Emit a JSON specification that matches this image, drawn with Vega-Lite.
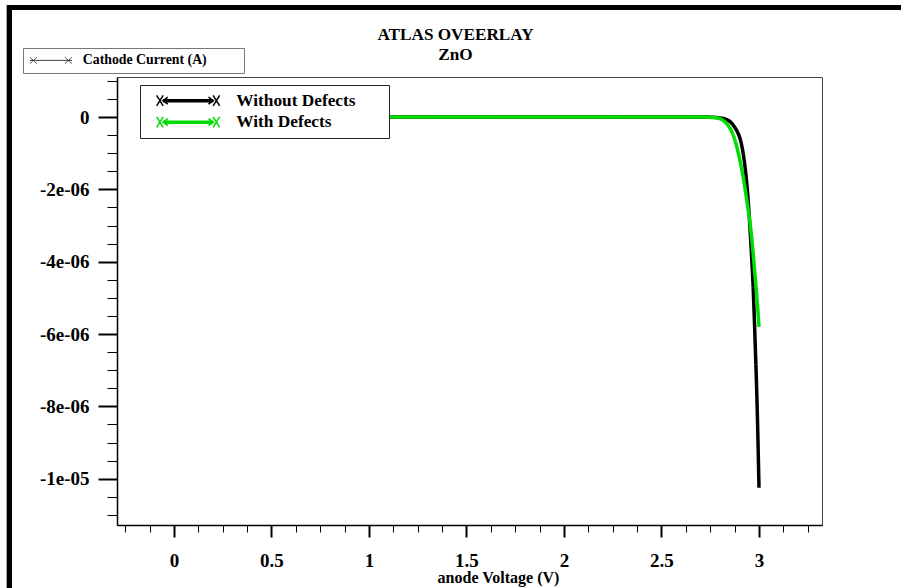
{
  "$schema": "https://vega.github.io/schema/vega-lite/v6.json",
  "width": 705,
  "height": 448,
  "autosize": {"type": "none"},
  "padding": {"left": 117, "top": 77, "right": 79, "bottom": 63},
  "background": "white",
  "title": {
    "text": "ATLAS OVEERLAY",
    "subtitle": "ZnO",
    "frame": "group",
    "anchor": "middle",
    "dx": -14,
    "offset": -61,
    "font": "Liberation Serif",
    "fontSize": 17.2,
    "fontWeight": "bold",
    "color": "black",
    "subtitleFont": "Liberation Serif",
    "subtitleFontSize": 17.2,
    "subtitleFontWeight": "bold",
    "subtitleColor": "black",
    "subtitlePadding": 3
  },
  "config": {
    "view": {"stroke": "#444", "strokeWidth": 1},
    "font": "Liberation Serif"
  },
  "data": {
    "values": [
      {"series": "Without Defects", "V": 0.0, "I": 0},
      {"series": "Without Defects", "V": 0.1, "I": 0},
      {"series": "Without Defects", "V": 0.2, "I": 0},
      {"series": "Without Defects", "V": 0.3, "I": 0},
      {"series": "Without Defects", "V": 0.4, "I": 0},
      {"series": "Without Defects", "V": 0.5, "I": 0},
      {"series": "Without Defects", "V": 0.6, "I": 0},
      {"series": "Without Defects", "V": 0.7, "I": 0},
      {"series": "Without Defects", "V": 0.8, "I": 0},
      {"series": "Without Defects", "V": 0.9, "I": 0},
      {"series": "Without Defects", "V": 1.0, "I": 0},
      {"series": "Without Defects", "V": 1.1, "I": 0},
      {"series": "Without Defects", "V": 1.2, "I": 0},
      {"series": "Without Defects", "V": 1.3, "I": 0},
      {"series": "Without Defects", "V": 1.4, "I": 0},
      {"series": "Without Defects", "V": 1.5, "I": 0},
      {"series": "Without Defects", "V": 1.6, "I": 0},
      {"series": "Without Defects", "V": 1.7, "I": 0},
      {"series": "Without Defects", "V": 1.8, "I": 0},
      {"series": "Without Defects", "V": 1.9, "I": 0},
      {"series": "Without Defects", "V": 2.0, "I": 0},
      {"series": "Without Defects", "V": 2.1, "I": 0},
      {"series": "Without Defects", "V": 2.2, "I": 0},
      {"series": "Without Defects", "V": 2.3, "I": 0},
      {"series": "Without Defects", "V": 2.4, "I": 0},
      {"series": "Without Defects", "V": 2.5, "I": 0},
      {"series": "Without Defects", "V": 2.6, "I": 0},
      {"series": "Without Defects", "V": 2.7, "I": 0},
      {"series": "Without Defects", "V": 2.75, "I": -5e-9},
      {"series": "Without Defects", "V": 2.8, "I": -2.5e-8},
      {"series": "Without Defects", "V": 2.83, "I": -6e-8},
      {"series": "Without Defects", "V": 2.85, "I": -1.2e-7},
      {"series": "Without Defects", "V": 2.87, "I": -2.4e-7},
      {"series": "Without Defects", "V": 2.89, "I": -4.2e-7},
      {"series": "Without Defects", "V": 2.9, "I": -5.5e-7},
      {"series": "Without Defects", "V": 2.91, "I": -7.5e-7},
      {"series": "Without Defects", "V": 2.92, "I": -1.05e-6},
      {"series": "Without Defects", "V": 2.93, "I": -1.45e-6},
      {"series": "Without Defects", "V": 2.94, "I": -2.0e-6},
      {"series": "Without Defects", "V": 2.95, "I": -2.75e-6},
      {"series": "Without Defects", "V": 2.96, "I": -3.65e-6},
      {"series": "Without Defects", "V": 2.97, "I": -4.7e-6},
      {"series": "Without Defects", "V": 2.98, "I": -6.2e-6},
      {"series": "Without Defects", "V": 2.99, "I": -7.9e-6},
      {"series": "Without Defects", "V": 3.0, "I": -1.025e-5},
      {"series": "With Defects", "V": 0.0, "I": 0},
      {"series": "With Defects", "V": 0.1, "I": 0},
      {"series": "With Defects", "V": 0.2, "I": 0},
      {"series": "With Defects", "V": 0.3, "I": 0},
      {"series": "With Defects", "V": 0.4, "I": 0},
      {"series": "With Defects", "V": 0.5, "I": 0},
      {"series": "With Defects", "V": 0.6, "I": 0},
      {"series": "With Defects", "V": 0.7, "I": 0},
      {"series": "With Defects", "V": 0.8, "I": 0},
      {"series": "With Defects", "V": 0.9, "I": 0},
      {"series": "With Defects", "V": 1.0, "I": 0},
      {"series": "With Defects", "V": 1.1, "I": 0},
      {"series": "With Defects", "V": 1.2, "I": 0},
      {"series": "With Defects", "V": 1.3, "I": 0},
      {"series": "With Defects", "V": 1.4, "I": 0},
      {"series": "With Defects", "V": 1.5, "I": 0},
      {"series": "With Defects", "V": 1.6, "I": 0},
      {"series": "With Defects", "V": 1.7, "I": 0},
      {"series": "With Defects", "V": 1.8, "I": 0},
      {"series": "With Defects", "V": 1.9, "I": 0},
      {"series": "With Defects", "V": 2.0, "I": 0},
      {"series": "With Defects", "V": 2.1, "I": 0},
      {"series": "With Defects", "V": 2.2, "I": 0},
      {"series": "With Defects", "V": 2.3, "I": 0},
      {"series": "With Defects", "V": 2.4, "I": 0},
      {"series": "With Defects", "V": 2.5, "I": 0},
      {"series": "With Defects", "V": 2.6, "I": 0},
      {"series": "With Defects", "V": 2.7, "I": 0},
      {"series": "With Defects", "V": 2.75, "I": -1e-8},
      {"series": "With Defects", "V": 2.78, "I": -2e-8},
      {"series": "With Defects", "V": 2.8, "I": -4.5e-8},
      {"series": "With Defects", "V": 2.82, "I": -1.1e-7},
      {"series": "With Defects", "V": 2.84, "I": -2.2e-7},
      {"series": "With Defects", "V": 2.86, "I": -4.0e-7},
      {"series": "With Defects", "V": 2.88, "I": -7.0e-7},
      {"series": "With Defects", "V": 2.9, "I": -1.15e-6},
      {"series": "With Defects", "V": 2.92, "I": -1.7e-6},
      {"series": "With Defects", "V": 2.94, "I": -2.4e-6},
      {"series": "With Defects", "V": 2.96, "I": -3.2e-6},
      {"series": "With Defects", "V": 2.98, "I": -4.4e-6},
      {"series": "With Defects", "V": 2.99, "I": -5.05e-6},
      {"series": "With Defects", "V": 3.0, "I": -5.8e-6}
    ]
  },
  "layer": [
    {
      "mark": {"type": "line", "strokeWidth": 3.5, "interpolate": "monotone"},
      "encoding": {
        "x": {
          "field": "V",
          "type": "quantitative",
          "scale": {"domain": [-0.2923, 3.3231], "nice": false, "zero": false},
          "axis": {
            "title": "anode Voltage (V)",
            "titleFont": "Liberation Serif",
            "titleFontSize": 16,
            "titleFontWeight": "bold",
            "titleColor": "black",
            "titleAnchor": "middle",
            "titleX": 381,
            "titleY": 57,
            "titleBaseline": "alphabetic",
            "grid": false,
            "tickCount": 200,
            "values": [-0.25, -0.125, 0, 0.125, 0.25, 0.375, 0.5, 0.625, 0.75, 0.875, 1, 1.125, 1.25, 1.375, 1.5, 1.625, 1.75, 1.875, 2, 2.125, 2.25, 2.375, 2.5, 2.625, 2.75, 2.875, 3, 3.125, 3.25],
            "labelExpr": "round(datum.value*8) % 4 == 0 ? toString(round(datum.value*2)/2) : ''",
            "labelFont": "Liberation Serif",
            "labelFontSize": 19,
            "labelFontWeight": "bold",
            "labelColor": "black",
            "labelPadding": 14,
            "labelOverlap": false,
            "labelFlush": false,
            "domainColor": "black",
            "domainWidth": 1.5,
            "tickColor": "black",
            "tickSize": {"condition": {"test": "round(datum.value*8) % 4 == 0", "value": 12}, "value": 7},
            "tickWidth": {"condition": {"test": "round(datum.value*8) % 4 == 0", "value": 2}, "value": 1}
          }
        },
        "y": {
          "field": "I",
          "type": "quantitative",
          "scale": {"domain": [-1.128e-5, 1.106e-6], "nice": false, "zero": false},
          "axis": {
            "title": null,
            "grid": false,
            "tickCount": 200,
            "values": [0.000001, 0.0000005, 0, -0.0000005, -0.000001, -0.0000015, -0.000002, -0.0000025, -0.000003, -0.0000035, -0.000004, -0.0000045, -0.000005, -0.0000055, -0.000006, -0.0000065, -0.000007, -0.0000075, -0.000008, -0.0000085, -0.000009, -0.0000095, -0.00001, -0.0000105, -0.000011],
            "labelExpr": "round(-datum.value*2000000) == 0 ? '0' : round(-datum.value*2000000) == 4 ? '-2e-06' : round(-datum.value*2000000) == 8 ? '-4e-06' : round(-datum.value*2000000) == 12 ? '-6e-06' : round(-datum.value*2000000) == 16 ? '-8e-06' : round(-datum.value*2000000) == 20 ? '-1e-05' : ''",
            "labelFont": "Liberation Serif",
            "labelFontSize": 19,
            "labelFontWeight": "bold",
            "labelColor": "black",
            "labelPadding": 9,
            "labelOverlap": false,
            "labelFlush": false,
            "domainColor": "black",
            "domainWidth": 1.5,
            "tickColor": "black",
            "tickSize": {"condition": {"test": "abs(round(-datum.value*2000000)) % 4 == 0", "value": 19}, "value": 10},
            "tickWidth": {"condition": {"test": "abs(round(-datum.value*2000000)) % 4 == 0", "value": 2}, "value": 1}
          }
        },
        "color": {
          "field": "series",
          "type": "nominal",
          "scale": {"domain": ["Without Defects", "With Defects"], "range": ["black", "#00dd00"]},
          "legend": {
            "title": null,
            "orient": "none",
            "legendX": 23,
            "legendY": 8,
            "padding": 7,
            "rowPadding": 3.5,
            "strokeColor": "#222",
            "fillColor": "white",
            "symbolType": "M-4.5,-0.76L-3.57,0.76M-4.5,0.76L-3.57,-0.76M3.57,-0.76L4.5,0.76M3.57,0.76L4.5,-0.76M-3.6,0L3.6,0M-3.6,-0.14L3.6,-0.14M-3.6,0.14L3.6,0.14M-2.9,-0.5L-3.6,0L-2.9,0.5M2.9,-0.5L3.6,0L2.9,0.5",
            "symbolSize": 196,
            "symbolStrokeWidth": 1.5,
            "symbolOffset": 32.5,
            "labelOffset": 39.5,
            "labelLimit": 400,
            "labelFont": "Liberation Serif",
            "labelFontSize": 17.3,
            "labelFontWeight": "bold",
            "labelColor": "black",
            "labelExpr": "datum.label + '\u00a0\u00a0\u00a0\u00a0\u00a0\u00a0\u200b'"
          }
        },
        "strokeDash": {
          "datum": "Cathode Current (A)",
          "type": "nominal",
          "scale": {"range": [[1, 0]]},
          "legend": {
            "title": null,
            "orient": "none",
            "legendX": -94,
            "legendY": -29,
            "padding": 5.5,
            "strokeColor": "#777",
            "fillColor": "white",
            "symbolType": "M-4.2,0L4.2,0M-4.2,-0.66L-2.8,0.66M-4.2,0.66L-2.8,-0.66M2.8,-0.66L4.2,0.66M2.8,0.66L4.2,-0.66",
            "symbolSize": 100,
            "symbolStrokeWidth": 1,
            "symbolStrokeColor": "#333",
            "symbolOffset": 15.5,
            "labelOffset": 25,
            "labelLimit": 400,
            "labelFont": "Liberation Serif",
            "labelFontSize": 13.8,
            "labelFontWeight": "bold",
            "labelColor": "black",
            "labelExpr": "datum.label + '\u00a0\u00a0\u00a0\u00a0\u00a0\u00a0\u00a0\u00a0\u00a0\u200b'"
          }
        }
      }
    },
    {
      "mark": {"type": "rule", "color": "black", "strokeWidth": 5},
      "encoding": {
        "x": {"datum": -0.8436, "type": "quantitative"},
        "y": {"datum": 0.000003096, "type": "quantitative"},
        "y2": {"datum": -0.000014}
      }
    },
    {
      "mark": {"type": "rule", "color": "black", "strokeWidth": 4.5},
      "encoding": {
        "x": {"datum": -0.8564, "type": "quantitative"},
        "x2": {"datum": 3.8},
        "y": {"datum": 0.000003036, "type": "quantitative"}
      }
    }
  ]
}
